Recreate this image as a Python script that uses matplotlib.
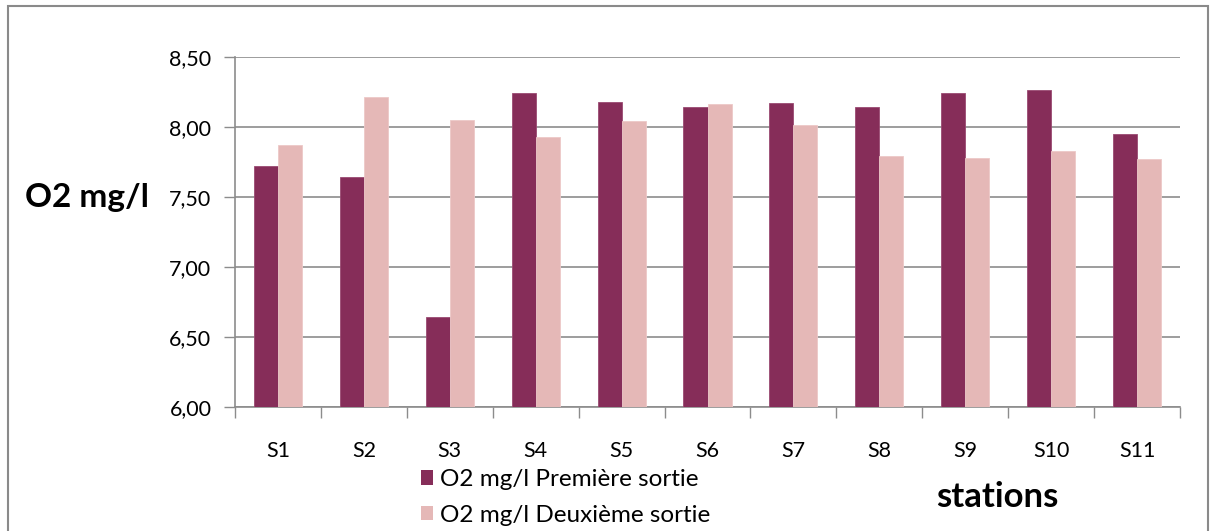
import matplotlib
matplotlib.use("Agg")
import matplotlib.pyplot as plt
from matplotlib.patches import Rectangle, Patch
import numpy as np

stations = ["S1", "S2", "S3", "S4", "S5", "S6", "S7", "S8", "S9", "S10", "S11"]
premiere = [7.72, 7.64, 6.64, 8.24, 8.18, 8.14, 8.17, 8.14, 8.24, 8.26, 7.95]
deuxieme = [7.87, 8.21, 8.05, 7.93, 8.04, 8.16, 8.01, 7.79, 7.78, 7.83, 7.77]
yticks = [6.0, 6.5, 7.0, 7.5, 8.0, 8.5]
ytick_labels = ["6,00", "6,50", "7,00", "7,50", "8,00", "8,50"]
series_labels = ["O2 mg/l Première sortie", "O2 mg/l Deuxième sortie"]

dark = "#862D59"
light = "#E5B8B7"
grid_col = "#8C8C8C"

plt.rcParams["font.family"] = ["Lato", "DejaVu Sans"]

W, H = 1216, 531
fig = plt.figure(figsize=(W / 100, H / 100), dpi=100)
fig.patch.set_facecolor("white")

# outer chart frame
fig.patches.append(Rectangle((8 / W, -0.05), (1208 - 8) / W, 1.05 - 6 / H,
                             transform=fig.transFigure, fill=False,
                             edgecolor="#8A8A8A", linewidth=1.5))

left, right = 235 / W, 1180 / W
bottom, top = 1 - 406.7 / H, 1 - 56.7 / H
ax = fig.add_axes([left, bottom, right - left, top - bottom])

x = np.arange(len(stations))
bw = 0.28
ax.bar(x - bw / 2, premiere, bw, bottom=0, color=dark, edgecolor="#9A4A72",
       linewidth=0.6, zorder=3)
ax.bar(x + bw / 2, deuxieme, bw, bottom=0, color=light, edgecolor="#EDC8C8",
       linewidth=0.6, zorder=3)

ax.set_ylim(6.0, 8.5)
ax.set_xlim(-0.5, len(stations) - 0.5)

ax.set_yticks(yticks)
ax.set_yticklabels(ytick_labels, fontsize=15.5)
ax.yaxis.grid(True, color=grid_col, linewidth=1.2, zorder=0)
ax.set_axisbelow(True)

# category boundaries carry the tick marks, centers carry the labels
ax.set_xticks(np.arange(-0.5, len(stations), 1.0))
ax.set_xticklabels([])
ax.set_xticks(x, minor=True)
ax.set_xticklabels(stations, minor=True, fontsize=15.5)
ax.tick_params(axis="x", which="major", length=8, width=1, color=grid_col,
               direction="out")
ax.tick_params(axis="x", which="minor", length=0, pad=25)
ax.tick_params(axis="y", length=8, width=1, color=grid_col, direction="out",
               pad=9)

for s in ["top", "right"]:
    ax.spines[s].set_visible(False)
for s in ["left", "bottom"]:
    ax.spines[s].set_color(grid_col)
    ax.spines[s].set_linewidth(1.2)

fig.text(25 / W, 1 - 197 / H, "O2 mg/l", fontsize=24, fontweight="bold",
         ha="left", va="center")
fig.text(997 / W, 1 - 497 / H, "stations", fontsize=25, fontweight="bold",
         ha="center", va="center")

handles = [Patch(facecolor=dark, edgecolor="none"),
           Patch(facecolor=light, edgecolor="none")]
fig.legend(handles, series_labels, loc="upper left",
           bbox_to_anchor=(421 / W, 1 - 469 / H), frameon=False,
           fontsize=17.5, handlelength=0.5, handleheight=0.55,
           handletextpad=0.3, labelspacing=0.6, borderaxespad=0,
           borderpad=0)

fig.savefig("out.png", dpi=100, facecolor="white")
